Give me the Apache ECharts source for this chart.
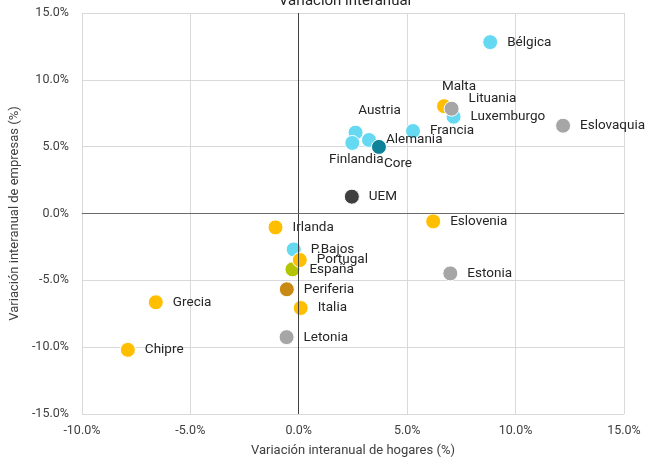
<!DOCTYPE html>
<html>
<head>
<meta charset="utf-8">
<script src="https://cdn.jsdelivr.net/npm/echarts@6/dist/echarts.min.js"></script>
<style>
  html, body { margin: 0; padding: 0; background: #fff; }
  #chart { width: 646px; height: 462px; }
</style>
</head>
<body>
<div id="chart"></div>
<script>
// datos (%)
var paises = ['Bélgica', 'Eslovaquia', 'Francia', 'Malta', 'Luxemburgo', 'Lituania',
    'Austria', 'Finlandia', 'Alemania', 'Core', 'UEM', 'Eslovenia', 'Estonia',
    'Irlanda', 'P.Bajos', 'España', 'Portugal', 'Periferia', 'Italia', 'Letonia',
    'Grecia', 'Chipre'];
var hogares = [8.83, 12.19, 5.27, 6.70, 7.14, 7.05,
    2.62, 2.47, 3.24, 3.70, 2.45, 6.20, 6.99,
    -1.07, -0.23, -0.29, 0.05, -0.55, 0.09, -0.56,
    -6.59, -7.88];
var empresas = [12.82, 6.57, 6.17, 8.03, 7.24, 7.84,
    6.05, 5.28, 5.50, 4.98, 1.26, -0.59, -4.48,
    -1.04, -2.69, -4.18, -3.48, -5.67, -7.07, -9.25,
    -6.64, -10.20];
var grupos = ['core', 'nuevos', 'core', 'periferia', 'core', 'nuevos',
    'core', 'core', 'core', 'aggCore', 'uem', 'periferia', 'nuevos',
    'periferia', 'core', 'espana', 'periferia', 'aggPeriferia', 'periferia', 'nuevos',
    'periferia', 'periferia'];
var xTicks = [-10, -5, 0, 5, 10, 15];
var yTicks = [-15, -10, -5, 0, 5, 10, 15];

var colores = {
    core: '#66d9f2',
    periferia: '#ffbf00',
    nuevos: '#a6a6a6',
    aggCore: '#0e8298',
    uem: '#3f3f3f',
    espana: '#b4c400',
    aggPeriferia: '#c88a14'
};
// etiquetas que no van a la derecha
var etiquetas = {
    'Malta': { position: 'top', offset: [15, 4] },
    'Lituania': { position: 'right', offset: [0, -10] },
    'Austria': { position: 'top', offset: [24, 2] },
    'Finlandia': { position: 'bottom', offset: [4, -7] },
    'Core': { position: 'bottom', offset: [19, -7] }
};

var datos = paises.map(function (p, i) {
    var item = {
        name: p,
        value: [hogares[i], empresas[i]],
        itemStyle: { color: colores[grupos[i]] }
    };
    if (etiquetas[p]) item.label = etiquetas[p];
    return item;
});

var fmt = function (v) { return v.toFixed(1) + '%'; };
var fuente = 'Roboto';

var chart = echarts.init(document.getElementById('chart'));
chart.setOption({
    animation: false,
    title: {
        text: 'Variación interanual',
        left: 340,
        textAlign: 'center',
        top: -11,
        textStyle: { fontFamily: fuente, fontSize: 15, fontWeight: 'normal', color: '#262626' }
    },
    grid: { left: 79, right: 22, top: 13, bottom: 45 },
    xAxis: {
        type: 'value',
        min: xTicks[0],
        max: xTicks[xTicks.length - 1],
        interval: 5,
        name: 'Variación interanual de hogares (%)',
        nameLocation: 'middle',
        nameGap: 30,
        nameTextStyle: { fontFamily: fuente, fontSize: 13, color: '#404040' },
        axisLine: { show: false },
        axisTick: { show: false },
        axisLabel: { formatter: fmt, fontFamily: fuente, fontSize: 12.5, color: '#404040', margin: 10 },
        splitLine: { lineStyle: { color: '#d9d9d9', width: 1 } }
    },
    yAxis: {
        type: 'value',
        min: yTicks[0],
        max: yTicks[yTicks.length - 1],
        interval: 5,
        name: 'Variación interanual de empresas (%)',
        nameLocation: 'middle',
        nameGap: 58,
        nameTextStyle: { fontFamily: fuente, fontSize: 13, color: '#404040' },
        axisLine: { show: false },
        axisTick: { show: false },
        axisLabel: { formatter: fmt, fontFamily: fuente, fontSize: 12.5, color: '#404040', margin: 13 },
        splitLine: { lineStyle: { color: '#d9d9d9', width: 1 } }
    },
    series: [{
        type: 'scatter',
        symbolSize: 15,
        itemStyle: { borderColor: '#fff', borderWidth: 1, opacity: 1 },
        label: {
            show: true,
            position: 'right',
            distance: 9,
            formatter: '{b}',
            fontFamily: fuente,
            fontSize: 13.5,
            color: '#262626'
        },
        markLine: {
            silent: true,
            symbol: 'none',
            label: { show: false },
            lineStyle: { type: 'solid', color: '#404040', width: 1 },
            data: [{ xAxis: 0 }, { yAxis: 0, lineStyle: { color: '#6b6b6b' } }]
        },
        data: datos
    }]
});
</script>
</body>
</html>
